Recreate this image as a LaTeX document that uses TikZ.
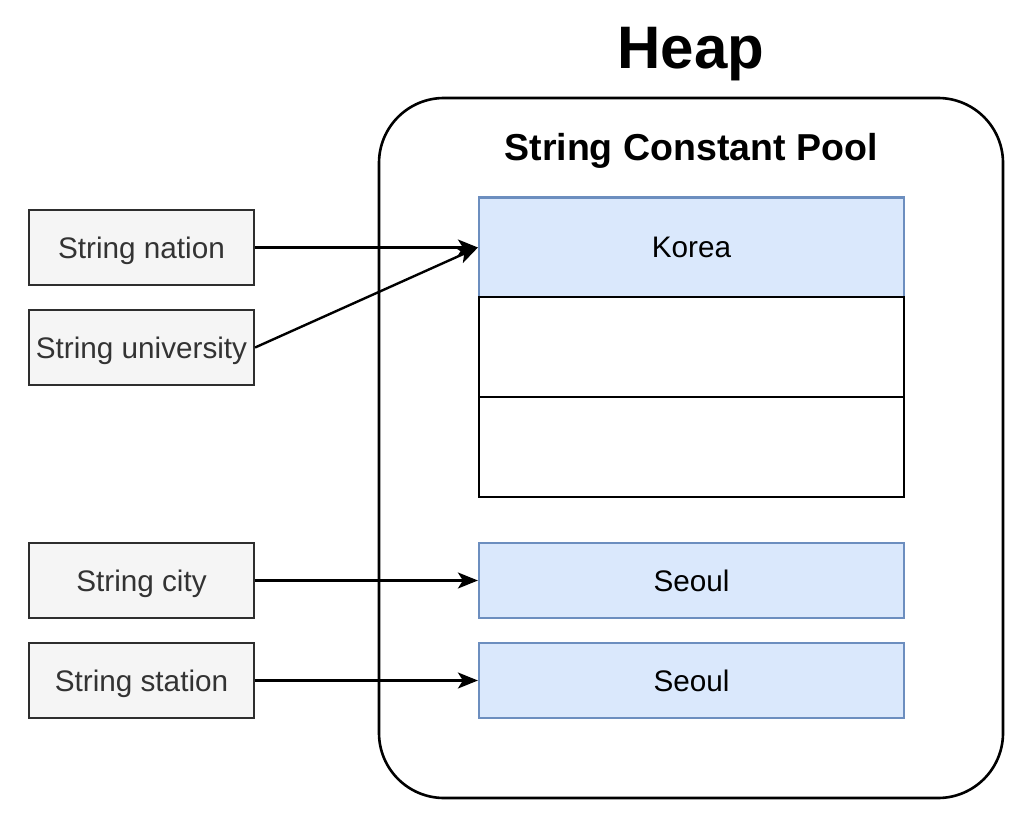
\documentclass[tikz,border=0pt]{standalone}
\usepackage{fontspec}
\setmainfont{Liberation Sans}
\usetikzlibrary{arrows.meta}
\definecolor{varfill}{HTML}{F5F5F5}
\definecolor{vardraw}{HTML}{2E2E2E}
\definecolor{vartext}{HTML}{333333}
\definecolor{blfill}{HTML}{DAE8FC}
\definecolor{bldraw}{HTML}{6C8EBF}
\begin{document}
\begin{tikzpicture}[x=1pt,y=-1pt,
  varbox/.style={draw=vardraw,fill=varfill,line width=2.2pt,minimum width=225pt,minimum height=75pt,inner sep=0pt,text depth=0pt,text=vartext,font=\fontsize{29.7}{34}\selectfont},
  valbox/.style={draw=bldraw,fill=blfill,line width=2.2pt,minimum width=425pt,minimum height=75pt,inner sep=0pt,text depth=0pt,font=\fontsize{29.7}{34}\selectfont},
  emptybox/.style={draw=black,fill=white,line width=2.2pt,minimum width=425pt,minimum height=100pt,inner sep=0pt},
  ref/.style={line width=2.4pt,-{Stealth[length=20pt,width=16pt,inset=5pt]}}]
\useasboundingbox (0,0) rectangle (1030,826);
\node[draw=black,line width=2.6pt,rounded corners=65pt,minimum width=624pt,minimum height=700pt,inner sep=0pt] (heap) at (691,448) {};
\node[font=\bfseries\fontsize{60}{68}\selectfont] (heaplbl) at (691,54) {Heap};
\node[font=\bfseries\fontsize{37.5}{42}\selectfont] (pool) at (691,151) {String Constant Pool};
\node[valbox,minimum height=100pt] (korea) at (691.5,247.5) {Korea};
\node[emptybox] (e1) at (691.5,347) {};
\node[emptybox] (e2) at (691.5,447) {};
\node[valbox] (seoul1) at (691.5,580.5) {Seoul};
\node[valbox] (seoul2) at (691.5,680.5) {Seoul};
\node[varbox] (nation) at (141.5,247.5) {String nation};
\node[varbox] (univ) at (141.5,347.5) {String university};
\node[varbox] (city) at (141.5,580.5) {String city};
\node[varbox] (station) at (141.5,680.5) {String station};
\draw[ref] (nation.east) -- (korea.west);
\draw[ref] (univ.east) -- (korea.west);
\draw[ref] (city.east) -- (seoul1.west);
\draw[ref] (station.east) -- (seoul2.west);
\end{tikzpicture}
\end{document}
